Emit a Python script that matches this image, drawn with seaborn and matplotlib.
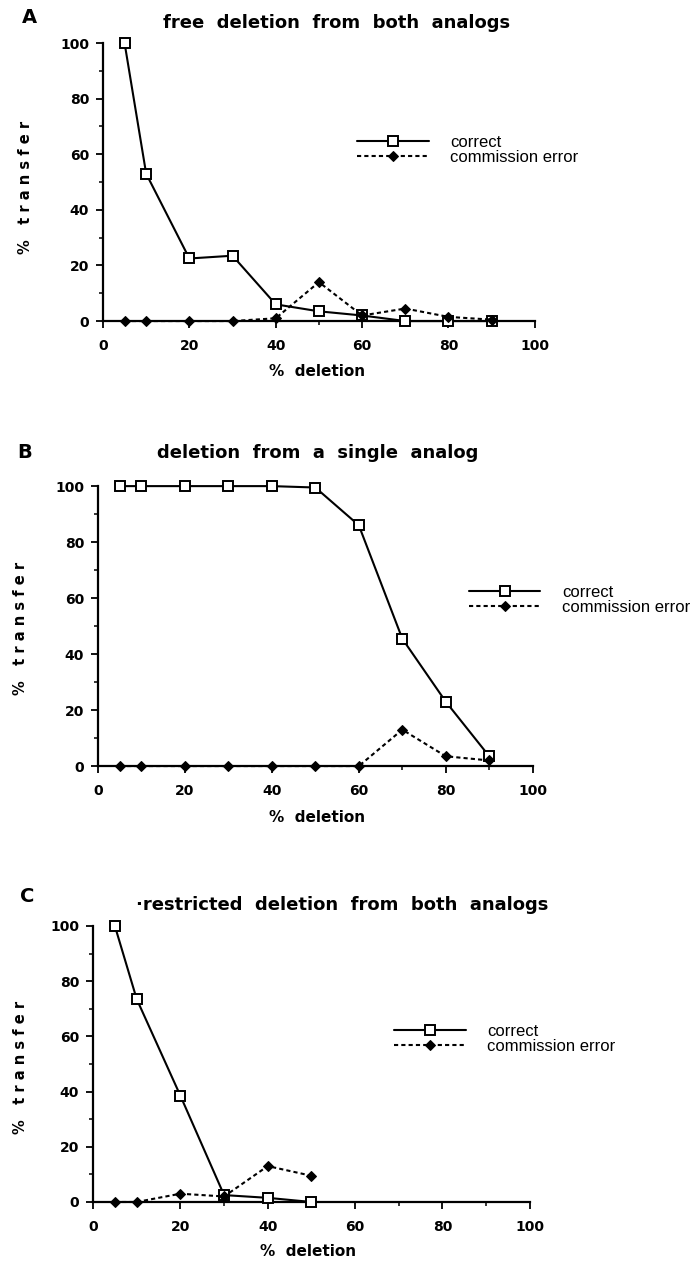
import matplotlib
matplotlib.use("Agg")
import matplotlib.pyplot as plt
from matplotlib.ticker import MultipleLocator
import seaborn as sns
import pandas as pd

sns.set_style("ticks")
plt.rcParams["font.family"] = ["DejaVu Sans"]
plt.rcParams.update({"text.color": "black", "axes.labelcolor": "black",
                     "xtick.color": "black", "ytick.color": "black",
                     "axes.edgecolor": "black"})

# ── data ──
x_a = [5, 10, 20, 30, 40, 50, 60, 70, 80, 90]
correct_a = [100, 53, 22.5, 23.5, 6, 3.5, 2, 0, 0, 0]
error_a = [0, 0, 0, 0, 1, 14, 2, 4.5, 1.5, 0.5]

x_b = [5, 10, 20, 30, 40, 50, 60, 70, 80, 90]
correct_b = [100, 100, 100, 100, 100, 99.5, 86, 45.5, 23, 3.5]
error_b = [0, 0, 0, 0, 0, 0, 0, 13, 3.5, 2]

x_c = [5, 10, 20, 30, 40, 50]
correct_c = [100, 73.5, 38.5, 2.5, 1.5, 0]
error_c = [0, 0, 3, 2, 13, 9.5]

titles = ["free  deletion  from  both  analogs",
          "deletion  from  a  single  analog",
          "\u00b7restricted  deletion  from  both  analogs"]
letters = ["A", "B", "C"]

panels = [(x_a, correct_a, error_a), (x_b, correct_b, error_b), (x_c, correct_c, error_c)]

# axes boxes in figure fractions (left, bottom, width, height)
boxes = [(0.1471, 0.7454, 0.617, 0.2205),
         (0.1400, 0.3925, 0.621, 0.2220),
         (0.1329, 0.0468, 0.624, 0.2189)]
title_pos = [(0.542, 1.072), (0.506, 1.118), (0.570, 1.076)]
letter_pos = [(0.031, 0.9865), (0.024, 0.6408), (0.028, 0.2887)]
legend_pos = [(0.588, 0.615), (0.853, 0.593), (0.689, 0.591)]
ylabel_pos = [(-0.180, 0.48), (-0.179, 0.49), (-0.167, 0.486)]
xlabel_pos = [(0.495, -0.183), (0.503, -0.182), (0.492, -0.181)]

fig = plt.figure(figsize=(7, 12.61), dpi=100)

for i, (xs, corr, err) in enumerate(panels):
    ax = fig.add_axes(boxes[i])
    df_c = pd.DataFrame({"deletion": xs, "transfer": corr})
    df_e = pd.DataFrame({"deletion": xs, "transfer": err})
    sns.lineplot(data=df_c, x="deletion", y="transfer", ax=ax, color="black",
                 linewidth=1.5, marker="s", markersize=6.5, markerfacecolor="white",
                 markeredgecolor="black", markeredgewidth=1.4, label="correct",
                 clip_on=False, zorder=3)
    sns.lineplot(data=df_e, x="deletion", y="transfer", ax=ax, color="black",
                 linewidth=1.5, linestyle=(0, (2, 1.5)), marker="D", markersize=5.5,
                 markerfacecolor="black", markeredgecolor="black",
                 label="commission error", clip_on=False, zorder=3)

    ax.set_xlim(0, 100)
    ax.set_ylim(0, 100)
    ax.xaxis.set_major_locator(MultipleLocator(20))
    ax.xaxis.set_minor_locator(MultipleLocator(10))
    ax.yaxis.set_major_locator(MultipleLocator(20))
    ax.yaxis.set_minor_locator(MultipleLocator(10))
    ax.tick_params(which="major", length=5, width=1.3, labelsize=10, direction="out")
    ax.tick_params(which="minor", length=3, width=1.1, direction="out")
    ax.tick_params(axis="x", which="major", pad=8)
    ax.tick_params(axis="y", which="major", pad=5)
    for lab in ax.get_xticklabels() + ax.get_yticklabels():
        lab.set_fontweight("bold")
    sns.despine(ax=ax)
    for s in ["left", "bottom"]:
        ax.spines[s].set_linewidth(1.6)

    ax.set_xlabel("%  deletion", fontsize=11, fontweight="bold")
    ax.set_ylabel("%   t r a n s f e r", fontsize=10.5, fontweight="bold")
    ax.xaxis.set_label_coords(*xlabel_pos[i])
    ax.yaxis.set_label_coords(*ylabel_pos[i])
    ax.xaxis.label.set_verticalalignment("center")
    ax.yaxis.label.set_verticalalignment("center")

    ax.text(title_pos[i][0], title_pos[i][1], titles[i], transform=ax.transAxes,
            ha="center", va="center", fontsize=13, fontweight="bold")
    fig.text(letter_pos[i][0], letter_pos[i][1], letters[i], ha="left", va="center",
             fontsize=14, fontweight="bold")

    leg = ax.legend(loc="center left", bbox_to_anchor=legend_pos[i], frameon=False,
                    handlelength=4.3, handletextpad=1.3, labelspacing=0.0,
                    borderpad=0, borderaxespad=0,
                    prop={"family": "Liberation Sans", "size": 12})

fig.savefig("out.png", dpi=100)
